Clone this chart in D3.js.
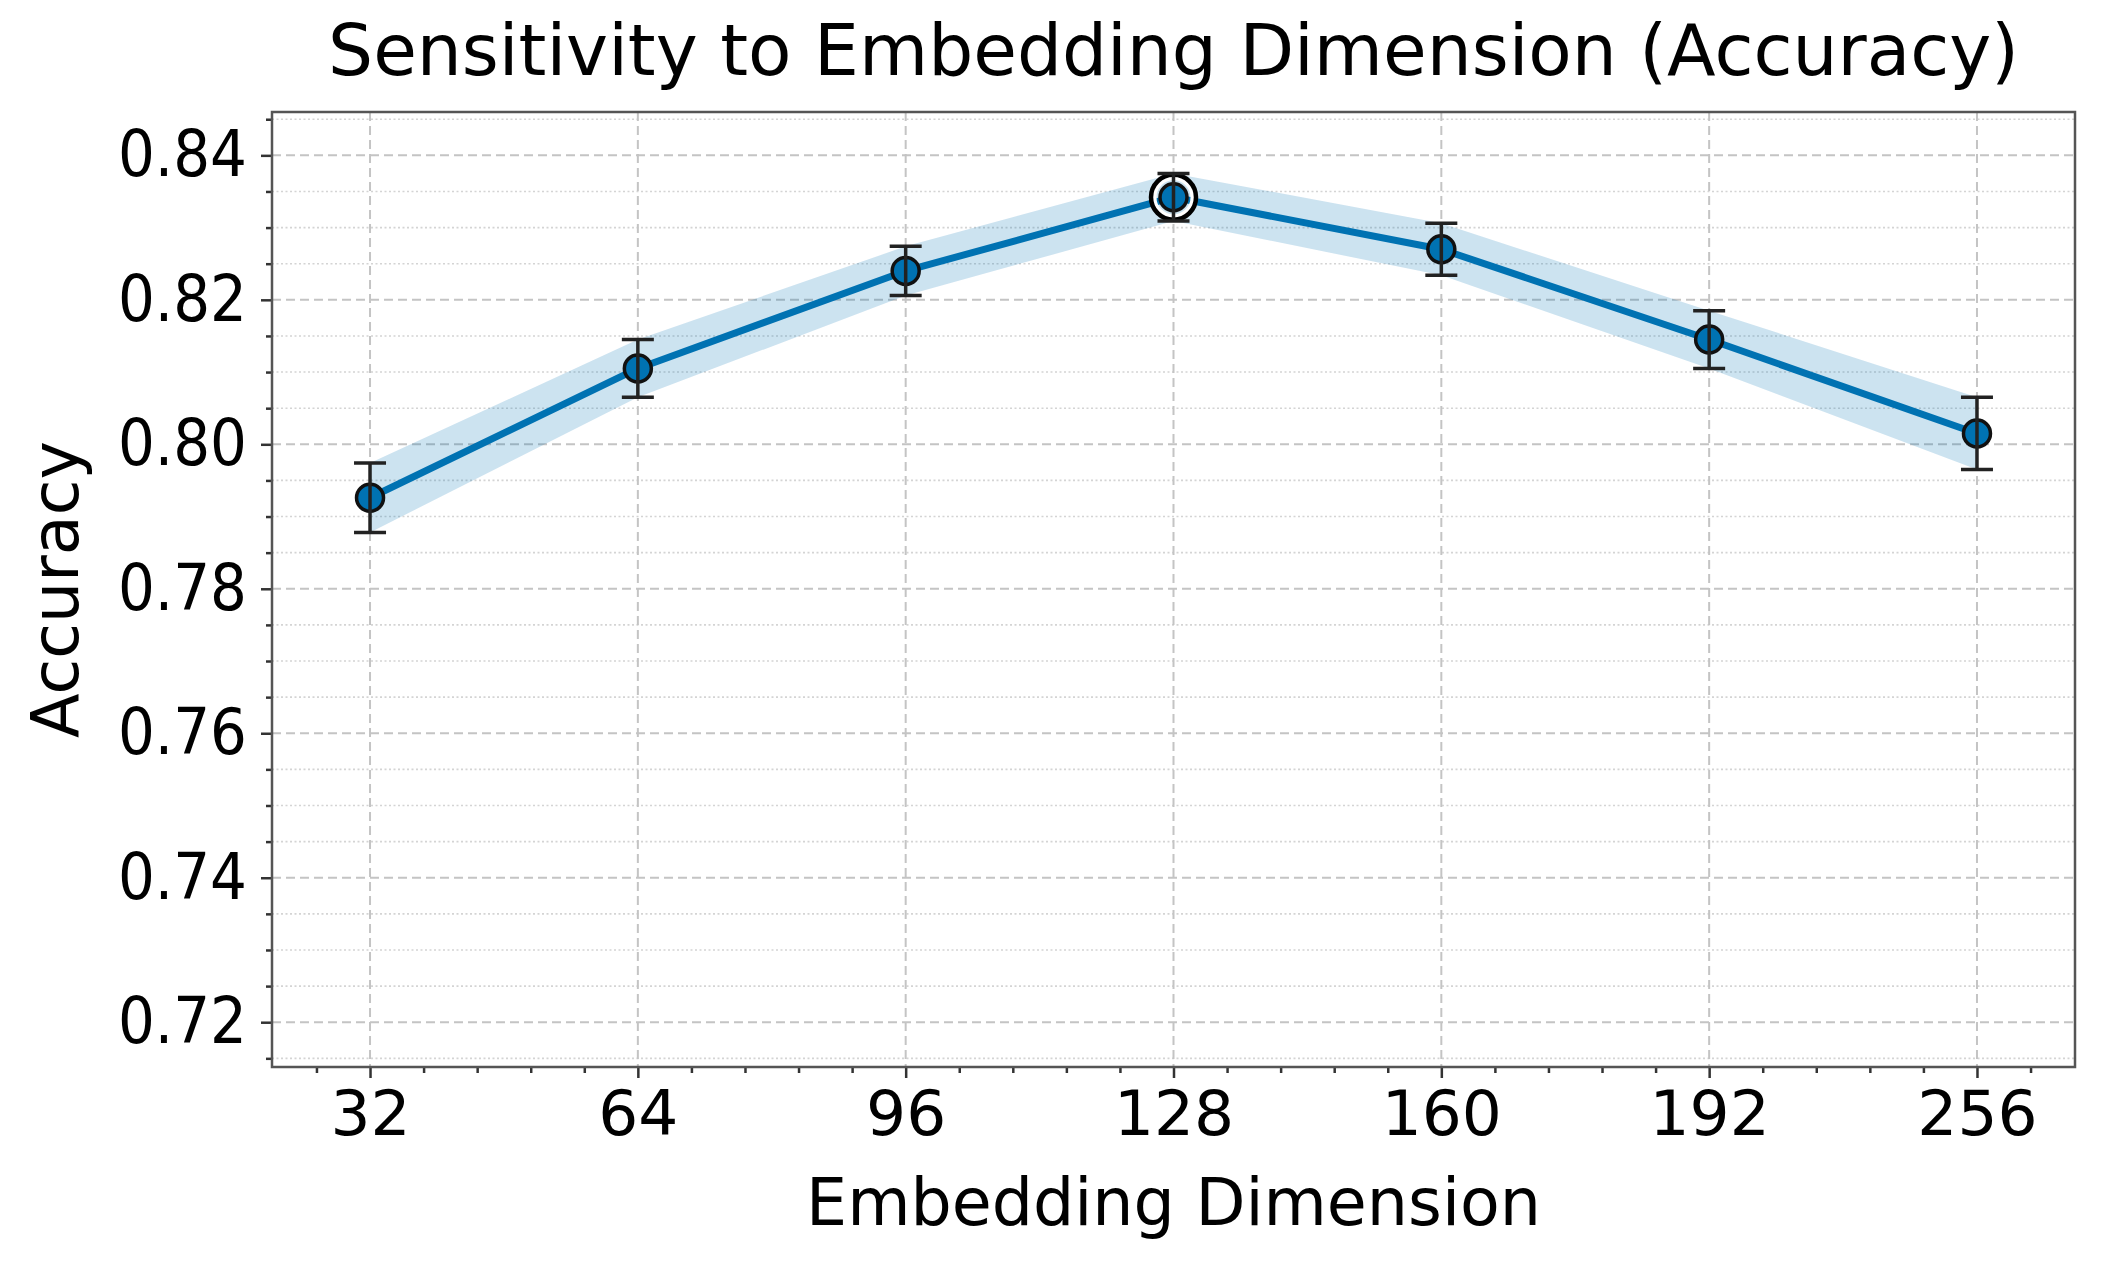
<!DOCTYPE html>
<html>
<head>
<meta charset="utf-8">
<script src="https://cdn.jsdelivr.net/npm/d3@7"></script>
<style>
  body { margin: 0; background: #fff; }
  text { font-family: "DejaVu Sans", sans-serif; fill: #000; }
</style>
</head>
<body>
<svg id="chart" width="2108" height="1266"></svg>
<script>
// values
const dims = [32, 64, 96, 128, 160, 192, 256];
const accuracy = [0.7926, 0.8105, 0.8240, 0.8342, 0.8270, 0.8145, 0.8015];
const accErr = [0.0048, 0.0040, 0.0034, 0.0033, 0.0036, 0.0040, 0.0050];
const yTicks = [0.72, 0.74, 0.76, 0.78, 0.80, 0.82, 0.84];
const bestIndex = 3;

const W = 2108, H = 1266;
const margin = { top: 112, right: 33, bottom: 199, left: 272 };
const blue = "#0072B2";

const svg = d3.select("#chart");

// x is by position, not by value (256 sits one step after 192)
const x = d3.scaleLinear()
    .domain([-0.366, dims.length - 1 + 0.366])
    .range([margin.left, W - margin.right]);
const y = d3.scaleLinear()
    .domain([0.7138, 0.846])
    .range([H - margin.bottom, margin.top]);

const minorY = d3.range(0.715, 0.8451, 0.005).filter(function (v) {
    return !yTicks.some(function (t) { return Math.abs(t - v) < 1e-6; });
});
const minorX = d3.range(-0.2, 6.3, 0.2).filter(function (v) {
    return Math.abs(v - Math.round(v)) > 1e-6;
});

/*
 *  grid: dotted minor lines, dashed major lines
 */
const grid = svg.append("g");
grid.selectAll(".minor-h")
    .data(minorY)
    .join("line")
    .attr("x1", margin.left).attr("x2", W - margin.right)
    .attr("y1", d => y(d)).attr("y2", d => y(d))
    .attr("stroke", "#d4d4d4")
    .attr("stroke-width", 1.6)
    .attr("stroke-dasharray", "2,2.5");
grid.selectAll(".major-h")
    .data(yTicks)
    .join("line")
    .attr("x1", margin.left).attr("x2", W - margin.right)
    .attr("y1", d => y(d)).attr("y2", d => y(d))
    .attr("stroke", "#c4c4c4")
    .attr("stroke-width", 2)
    .attr("stroke-dasharray", "9,5");
grid.selectAll(".major-v")
    .data(d3.range(dims.length))
    .join("line")
    .attr("x1", d => x(d)).attr("x2", d => x(d))
    .attr("y1", margin.top).attr("y2", H - margin.bottom)
    .attr("stroke", "#c4c4c4")
    .attr("stroke-width", 2)
    .attr("stroke-dasharray", "9,5");

// shaded band (mean +/- std)
const band = d3.area()
    .x((d, i) => x(i))
    .y0((d, i) => y(d - accErr[i]))
    .y1((d, i) => y(d + accErr[i]));
svg.append("path")
    .datum(accuracy)
    .attr("d", band)
    .attr("fill", blue)
    .attr("fill-opacity", 0.2);

const line = d3.line()
    .x((d, i) => x(i))
    .y(d => y(d));
svg.append("path")
    .datum(accuracy)
    .attr("d", line)
    .attr("fill", "none")
    .attr("stroke", blue)
    .attr("stroke-width", 7)
    .attr("stroke-linejoin", "round");

// highlight ring round the best point
svg.append("circle")
    .attr("cx", x(bestIndex)).attr("cy", y(accuracy[bestIndex]))
    .attr("r", 19)
    .attr("fill", "none")
    .attr("stroke", "#fff")
    .attr("stroke-width", 4);
svg.append("circle")
    .attr("cx", x(bestIndex)).attr("cy", y(accuracy[bestIndex]))
    .attr("r", 22.5)
    .attr("fill", "none")
    .attr("stroke", "#000")
    .attr("stroke-width", 4.5);

svg.append("g").selectAll("circle")
    .data(accuracy)
    .join("circle")
    .attr("cx", (d, i) => x(i))
    .attr("cy", d => y(d))
    .attr("r", 13.5)
    .attr("fill", blue)
    .attr("stroke", "#111")
    .attr("stroke-width", 3.5);

// error bars on top of the markers
const bars = svg.append("g")
    .attr("stroke", "#222")
    .attr("stroke-width", 3.5);
accuracy.forEach(function (d, i) {
    const cx = x(i), top = y(d + accErr[i]), bot = y(d - accErr[i]);
    bars.append("line").attr("x1", cx).attr("x2", cx).attr("y1", top).attr("y2", bot);
    bars.append("line").attr("x1", cx - 16).attr("x2", cx + 16).attr("y1", top).attr("y2", top);
    bars.append("line").attr("x1", cx - 16).attr("x2", cx + 16).attr("y1", bot).attr("y2", bot);
});

/*
 *  axes
 */
const xAxis = svg.append("g")
    .attr("transform", "translate(0," + (H - margin.bottom) + ")")
    .call(d3.axisBottom(x)
        .tickValues(d3.range(dims.length))
        .tickFormat(i => dims[i])
        .tickSize(11)
        .tickPadding(12));
svg.append("g")
    .attr("transform", "translate(0," + (H - margin.bottom) + ")")
    .call(d3.axisBottom(x).tickValues(minorX).tickFormat("").tickSize(6));

const yAxis = svg.append("g")
    .attr("transform", "translate(" + margin.left + ",0)")
    .call(d3.axisLeft(y)
        .tickValues(yTicks)
        .tickFormat(d3.format(".2f"))
        .tickSize(11)
        .tickPadding(14));
svg.append("g")
    .attr("transform", "translate(" + margin.left + ",0)")
    .call(d3.axisLeft(y).tickValues(minorY).tickFormat("").tickSize(6));

svg.selectAll(".domain").remove();
svg.selectAll(".tick line").attr("stroke", "#333").attr("stroke-width", 2.5);
xAxis.selectAll("text").attr("font-size", 63).attr("dy", "0.72em");
// the reference's y labels are a little narrower than tall
yAxis.selectAll("text")
    .attr("font-size", 58)
    .attr("transform", "scale(1,1.1)");

// frame
svg.append("rect")
    .attr("x", margin.left).attr("y", margin.top)
    .attr("width", W - margin.left - margin.right)
    .attr("height", H - margin.top - margin.bottom)
    .attr("fill", "none")
    .attr("stroke", "#555")
    .attr("stroke-width", 2.5);

// titles
svg.append("text")
    .attr("x", (margin.left + W - margin.right) / 2)
    .attr("y", 75)
    .attr("text-anchor", "middle")
    .attr("font-size", 71)
    .text("Sensitivity to Embedding Dimension (Accuracy)");
svg.append("text")
    .attr("x", (margin.left + W - margin.right) / 2)
    .attr("y", 1225)
    .attr("text-anchor", "middle")
    .attr("font-size", 65)
    .text("Embedding Dimension");
svg.append("text")
    .attr("transform", "translate(78," + (margin.top + H - margin.bottom) / 2 + ") rotate(-90)")
    .attr("text-anchor", "middle")
    .attr("font-size", 65)
    .text("Accuracy");
</script>
</body>
</html>
